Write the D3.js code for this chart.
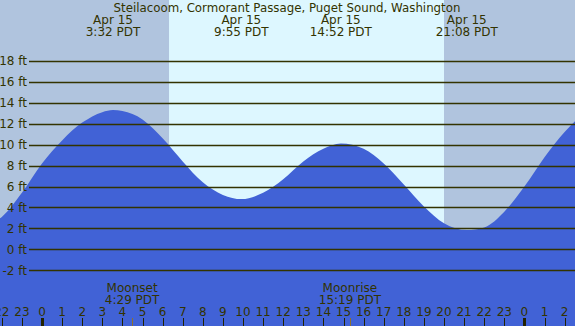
<!DOCTYPE html>
<html>
<head>
<meta charset="utf-8">
<script src="https://cdn.jsdelivr.net/npm/d3@7"></script>
<style>
  body { margin: 0; padding: 0; background: #fff; }
  svg text { font-family: "DejaVu Sans", sans-serif; fill: #333300; }
</style>
</head>
<body>
<svg id="chart" width="575" height="326"></svg>
<script>
// tide curve, hours from Apr 15 00:00 PDT
var tideHours = [-2.1, -2, -1, 0, 1, 2, 3, 3.53, 4, 5, 6, 7, 8, 9, 9.93, 11, 12, 13, 14, 14.87, 16, 17, 18, 19, 20, 21.13, 22, 23, 24, 25, 26, 26.6];
var tideFeet = [2.95, 3.1, 5.4, 8.2, 10.4, 12.1, 13.1, 13.3, 13.2, 12.4, 10.6, 8.4, 6.4, 5.2, 4.8, 5.4, 6.7, 8.4, 9.6, 10.1, 9.6, 8.2, 6.2, 4.1, 2.5, 1.84, 2.1, 3.6, 6.0, 8.8, 11.2, 12.4];

var extremeHours = [3.533, 9.917, 14.867, 21.133];
var extremeDates = ["Apr 15", "Apr 15", "Apr 15", "Apr 15"];
var extremeTimes = ["3:32 PDT", "9:55 PDT", "14:52 PDT", "21:08 PDT"];

var moonHours = [4.483, 15.317];
var moonNames = ["Moonset", "Moonrise"];
var moonTimes = ["4:29 PDT", "15:19 PDT"];

var sunrise = 6.32, sunset = 20.0;
var feetTicks = [-2, 0, 2, 4, 6, 8, 10, 12, 14, 16, 18];
var hourTicks = d3.range(-2, 27);

var title = "Steilacoom, Cormorant Passage, Puget Sound, Washington";

var svg = d3.select("#chart"),
    width = +svg.attr("width"),
    height = +svg.attr("height");

var x = d3.scaleLinear().domain([0, 24]).range([42, 524.4]);
var y = d3.scaleLinear().domain([0, 18]).range([249.4, 60.8]);

// night / day background
svg.append("rect").attr("x", 0).attr("y", 0).attr("width", width).attr("height", height)
    .attr("fill", "#b0c4de");
svg.append("rect")
    .attr("x", x(sunrise)).attr("y", 0)
    .attr("width", x(sunset) - x(sunrise)).attr("height", height)
    .attr("fill", "#ddf7ff");

// water
var pts = tideHours.map(function(h, i) { return [h, tideFeet[i]]; });
var area = d3.area()
    .x(function(d) { return x(d[0]); })
    .y0(height)
    .y1(function(d) { return y(d[1]); })
    .curve(d3.curveMonotoneX);
svg.append("path").datum(pts).attr("d", area).attr("fill", "#4162d6");

// grid lines and foot labels
svg.append("g").selectAll("line")
    .data(feetTicks).enter().append("line")
    .attr("x1", 29).attr("x2", width)
    .attr("y1", function(d) { return Math.round(y(d)) + 0.5; })
    .attr("y2", function(d) { return Math.round(y(d)) + 0.5; })
    .attr("stroke", "#333300").attr("stroke-width", 1.3);

svg.append("g").selectAll("text")
    .data(feetTicks).enter().append("text")
    .attr("x", 27)
    .attr("y", function(d) { return y(d) + 4.5; })
    .attr("text-anchor", "end")
    .attr("font-size", 12)
    .text(function(d) { return d + " ft"; });

// title and high/low labels
svg.append("text").attr("x", 287).attr("y", 12)
    .attr("text-anchor", "middle").attr("font-size", 11.8).text(title);

var ext = svg.append("g").selectAll("g")
    .data(extremeHours).enter().append("g");
ext.append("text")
    .attr("x", function(d) { return x(d); }).attr("y", 24)
    .attr("text-anchor", "middle").attr("font-size", 12)
    .text(function(d, i) { return extremeDates[i]; });
ext.append("text")
    .attr("x", function(d) { return x(d); }).attr("y", 36)
    .attr("text-anchor", "middle").attr("font-size", 12)
    .text(function(d, i) { return extremeTimes[i]; });

// moon labels
var moon = svg.append("g").selectAll("g")
    .data(moonHours).enter().append("g");
moon.append("text")
    .attr("x", function(d) { return x(d); }).attr("y", 292)
    .attr("text-anchor", "middle").attr("font-size", 12)
    .text(function(d, i) { return moonNames[i]; });
moon.append("text")
    .attr("x", function(d) { return x(d); }).attr("y", 304)
    .attr("text-anchor", "middle").attr("font-size", 12)
    .text(function(d, i) { return moonTimes[i]; });
moon.append("line")
    .attr("x1", function(d) { return Math.round(x(d)) + 0.5; })
    .attr("x2", function(d) { return Math.round(x(d)) + 0.5; })
    .attr("y1", 318).attr("y2", height)
    .attr("stroke", "#8b7030").attr("stroke-width", 1);

// hour axis
svg.append("g").selectAll("text")
    .data(hourTicks).enter().append("text")
    .attr("x", function(d) { return x(d); }).attr("y", 316)
    .attr("text-anchor", "middle").attr("font-size", 12)
    .text(function(d) { return ((d % 24) + 24) % 24; });

svg.append("g").selectAll("line")
    .data(hourTicks).enter().append("line")
    .attr("x1", function(d) { return Math.round(x(d)) + 0.5; })
    .attr("x2", function(d) { return Math.round(x(d)) + 0.5; })
    .attr("y1", 318).attr("y2", height)
    .attr("stroke", "#222200")
    .attr("stroke-width", function(d) { return d % 24 === 0 ? 3 : 1; });
</script>
</body>
</html>
